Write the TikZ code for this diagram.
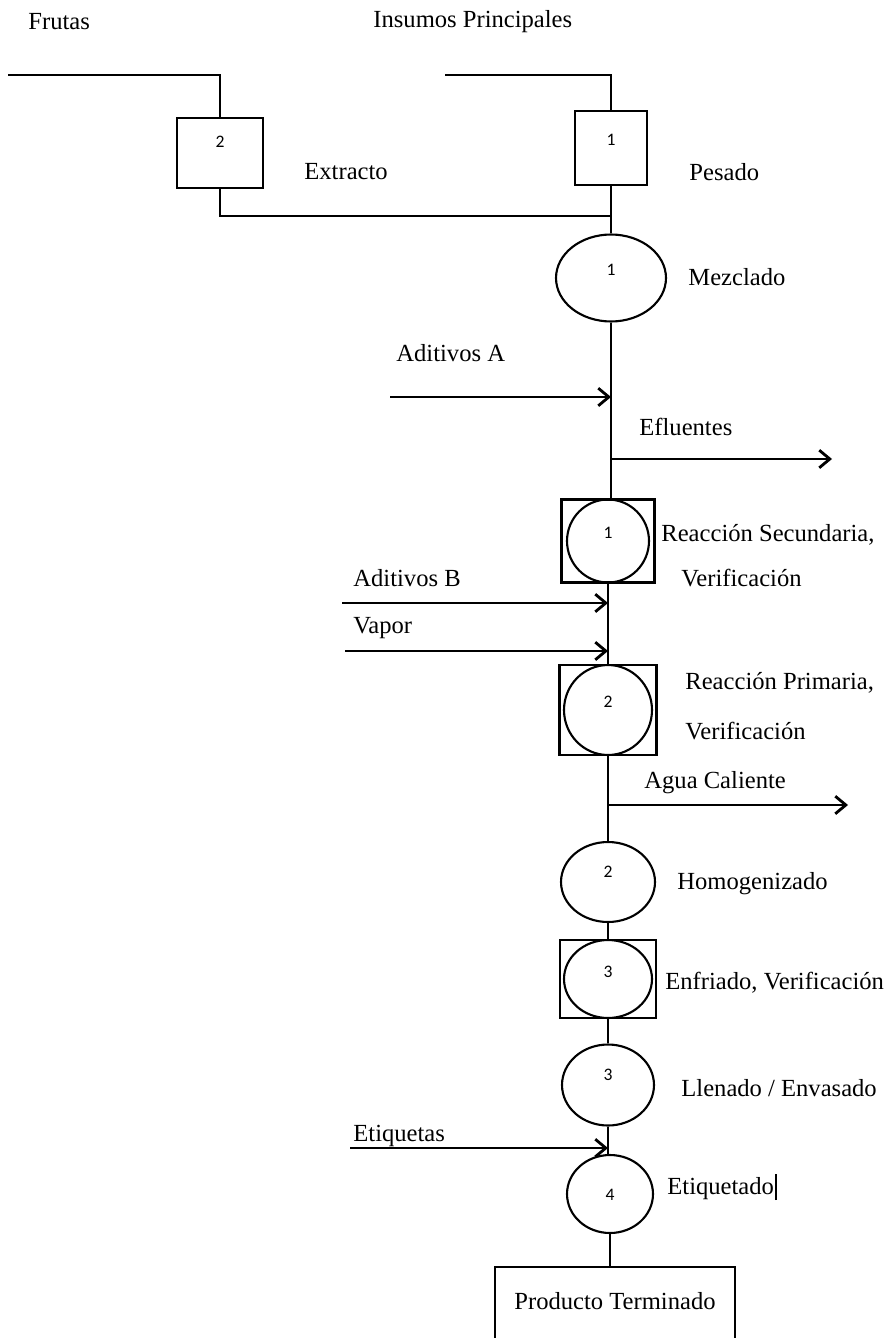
\documentclass[tikz,border=0pt]{standalone}
\usepackage{fontspec}
\setmainfont{Liberation Serif}
\newfontfamily\numfont{Carlito}
\usetikzlibrary{shapes.geometric}
\usetikzlibrary{arrows.meta}
\usetikzlibrary{positioning}
\tikzset{>={Straight Barb[length=6pt,width=10pt]}}

\begin{document}
\begin{tikzpicture}[x=0.02cm,y=-0.02cm,line width=1.6pt,
    txt/.style={anchor=west,inner sep=0pt,font=\fontsize{14}{16}\selectfont},
    nro/.style={font=\numfont\fontsize{10}{11}\selectfont},
    caja/.style={draw,rectangle,inner sep=0pt},
    ovalo/.style={draw,ellipse,inner sep=0pt,line width=1.2pt}]
  \useasboundingbox (0,0) rectangle (884,1338);
  \clip (0,0) rectangle (884,1338);

  % entradas
  \node[txt] (tfru) at (27,22) {Frutas};
  \node[txt] (tins) at (372,22) {Insumos Principales};
  \coordinate (fru) at (8,75);
  \coordinate (ins) at (445,75);
  \coordinate (j0) at (611,216);

  \node[caja,minimum width=1.72cm,minimum height=1.4cm,
        label={[nro,yshift=0.22cm]center:2}] (extr) at (220,153) {};
  \node[txt] (textr) at (303,172) {Extracto};
  \node[caja,minimum width=1.44cm,minimum height=1.48cm,
        label={[nro,yshift=0.16cm]center:1}] (pes) at (611,148) {};
  \node[txt] (tpes) at (688,172) {Pesado};

  \node[ovalo,minimum width=2.2cm,minimum height=1.74cm,
        label={[nro,yshift=0.16cm]center:1}] (mez) at (611,278) {};
  \node[txt] (tmez) at (687,277) {Mezclado};

  \node[caja,minimum width=1.86cm,minimum height=1.66cm] (rs1) at (608,541) {};
  \node[ovalo,minimum width=1.64cm,minimum height=1.66cm,
        label={[nro,yshift=0.16cm]center:1}] (rs1c) at (rs1) {};
  \node[txt] (trs1) at (660,535) {Reacción Secundaria,};
  \node[txt] (tver1) at (680,578) {Verificación};

  \node[caja,minimum width=1.94cm,minimum height=1.8cm] (rp2) at (608,710) {};
  \node[ovalo,minimum width=1.76cm,minimum height=1.8cm,
        label={[nro,yshift=0.16cm]center:2}] (rp2c) at (rp2) {};
  \node[txt] (trp2) at (684,683) {Reacción Primaria,};
  \node[txt] (tver2) at (684,731) {Verificación};

  \node[ovalo,minimum width=1.88cm,minimum height=1.6cm,
        label={[nro,yshift=0.2cm]center:2}] (homo) at (608,882) {};
  \node[txt] (thomo) at (676,884) {Homogenizado};

  \node[caja,minimum width=1.92cm,minimum height=1.56cm] (enf) at (608,979) {};
  \node[ovalo,minimum width=1.76cm,minimum height=1.56cm,
        label={[nro,yshift=0.14cm]center:3}] (enfc) at (enf) {};
  \node[txt] (tenf) at (664,983) {Enfriado, Verificación};

  \node[ovalo,minimum width=1.84cm,minimum height=1.62cm,
        label={[nro,yshift=0.2cm]center:3}] (llen) at (608,1085) {};
  \node[txt] (tllen) at (680,1088) {Llenado / Envasado};

  \node[ovalo,minimum width=1.72cm,minimum height=1.56cm,
        label={[nro,yshift=-0.02cm]center:4}] (etq) at (610,1194) {};
  \node[txt] (tetq) at (666,1187) {Etiquetado\hspace{0.5pt}\rule[-3pt]{1.4pt}{15pt}};

  \node[caja,minimum width=4.8cm,minimum height=1.8cm,
        label={[txt,anchor=center,yshift=0.22cm]center:Producto Terminado}] (prod) at (615,1312) {};

  % lineas principales
  \draw (fru) -| (extr);
  \draw (ins) -| (pes);
  \draw (extr) |- (j0);
  \draw (pes) -- (mez);
  \draw (mez) -- (mez |- rs1.north);
  \draw (rs1) -- (rp2);
  \draw (rp2) -- (homo);
  \draw (homo) -- (enf);
  \draw (enf) -- (llen);
  \draw (llen) -- (llen |- etq.north);
  \draw (etq) -- (etq |- prod.north);

  % corrientes laterales
  \coordinate (aA0) at (390,397);  \coordinate (aA1) at (611,397);
  \coordinate (ef0) at (611,459);  \coordinate (ef1) at (832,459);
  \coordinate (aB0) at (342,603);  \coordinate (aB1) at (608,603);
  \coordinate (va0) at (345,651);  \coordinate (va1) at (608,651);
  \coordinate (ag0) at (608,805);  \coordinate (ag1) at (848,805);
  \coordinate (et0) at (350,1148); \coordinate (et1) at (608,1148);
  \draw[->] (aA0) -- (aA1);
  \draw[->] (ef0) -- (ef1);
  \draw[->] (aB0) -- (aB1);
  \draw[->] (va0) -- (va1);
  \draw[->] (ag0) -- (ag1);
  \draw[->] (et0) -- (et1);
  \node[txt] (taA) at (395,353) {Aditivos A};
  \node[txt] (tef) at (638,427) {Efluentes};
  \node[txt] (taB) at (352,578) {Aditivos B};
  \node[txt] (tva) at (352,628) {Vapor};
  \node[txt] (tag) at (643,783) {Agua Caliente};
  \node[txt] (tet) at (352,1136) {Etiquetas};
\end{tikzpicture}
\end{document}
